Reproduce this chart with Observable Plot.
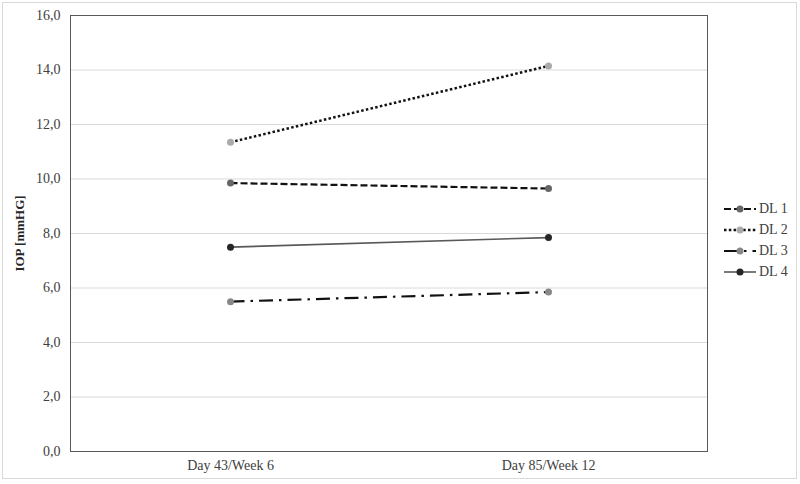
<!DOCTYPE html>
<html>
<head>
<meta charset="utf-8">
<script src="https://cdn.jsdelivr.net/npm/d3@7"></script>
<script src="https://cdn.jsdelivr.net/npm/@observablehq/plot@0.6"></script>
<style>
  body { margin: 0; background: #fff; font-family: "Times New Roman", "Liberation Serif", serif; }
  #wrap { position: relative; width: 800px; height: 484px; overflow: hidden; }
  #chart svg, #chart svg text { font-family: "Times New Roman", "Liberation Serif", serif !important; }
  #border { position: absolute; left: 2px; top: 2px; width: 795px; height: 477px; border: 1px solid #d9d9d9; box-sizing: border-box; pointer-events: none; }
  #legend { position: absolute; left: 722px; top: 198px; font-family: "Times New Roman", "Liberation Serif", serif; font-size: 14px; color: #404040; }
  .item { display: flex; align-items: center; height: 21px; }
  .item svg { margin-right: 3px; }
</style>
</head>
<body>
<div id="wrap">
  <div id="chart"></div>
  <div id="legend"></div>
  <div id="border"></div>
</div>
<script>
const categories = ["Day 43/Week 6", "Day 85/Week 12"];
const seriesNames = ["DL 1", "DL 2", "DL 3", "DL 4"];
const dl1 = [9.85, 9.65];
const dl2 = [11.35, 14.15];
const dl3 = [5.5, 5.85];
const dl4 = [7.5, 7.85];
const yTicks = [0, 2, 4, 6, 8, 10, 12, 14, 16];

const styles = {
  "DL 1": {stroke: "#111", width: 2.2, dash: "7,3", marker: "#666"},
  "DL 2": {stroke: "#111", width: 2.5, dash: "2.5,2.3", marker: "#aaa"},
  "DL 3": {stroke: "#111", width: 2.2, dash: "14,6,2.5,6", marker: "#888"},
  "DL 4": {stroke: "#595959", width: 1.6, dash: null, marker: "#262626"}
};

const valuesBySeries = {"DL 1": dl1, "DL 2": dl2, "DL 3": dl3, "DL 4": dl4};
const data = seriesNames.flatMap(s => categories.map((c, i) => ({series: s, cat: c, value: valuesBySeries[s][i]})));

const fmt = d => d.toFixed(1).replace(".", ",");

const lineMarks = seriesNames.map(s => Plot.line(data.filter(d => d.series === s), {
  x: "cat", y: "value",
  stroke: styles[s].stroke, strokeWidth: styles[s].width,
  strokeDasharray: styles[s].dash || undefined,
  strokeLinecap: "butt", strokeLinejoin: "miter"
}));
const dotMarks = seriesNames.map(s => Plot.dot(data.filter(d => d.series === s), {
  x: "cat", y: "value", r: 3.5, fill: styles[s].marker, stroke: "none"
}));

const chart = Plot.plot({
  width: 800,
  height: 484,
  marginLeft: 70,
  marginRight: 93,
  marginTop: 15,
  marginBottom: 33,
  style: {fontFamily: "'Times New Roman', 'Liberation Serif', serif", fontSize: "14px", color: "#404040", background: "transparent"},
  x: {type: "point", domain: categories, padding: 0.5},
  y: {domain: [0, 16]},
  marks: [
    Plot.gridY(yTicks.slice(1, -1), {stroke: "#d9d9d9", strokeOpacity: 1}),
    Plot.frame({stroke: "#595959"}),
    Plot.axisY(yTicks, {tickSize: 0, tickPadding: 10, tickFormat: fmt, label: "IOP [mmHG]", labelAnchor: "center", labelOffset: 56, fill: "#404040"}),
    Plot.axisX(categories, {tickSize: 0, tickPadding: 9, label: null, fill: "#404040"}),
    ...lineMarks,
    ...dotMarks
  ]
});
document.getElementById("chart").appendChild(chart);
d3.select(chart).selectAll('[aria-label="y-axis label"] text')
  .text("IOP [mmHG]")
  .style("font-weight", "bold").style("font-size", "13px").attr("fill", "#262626");

const legend = d3.select("#legend");
seriesNames.forEach(s => {
  const st = styles[s];
  const item = legend.append("div").attr("class", "item");
  const svg = item.append("svg").attr("width", 34).attr("height", 12);
  svg.append("line").attr("x1", 2).attr("x2", 34).attr("y1", 6).attr("y2", 6)
    .attr("stroke", st.stroke).attr("stroke-width", st.width)
    .attr("stroke-dasharray", st.dash);
  svg.append("circle").attr("cx", 18).attr("cy", 6).attr("r", 3.5).attr("fill", st.marker);
  item.append("span").text(s);
});
</script>
</body>
</html>
